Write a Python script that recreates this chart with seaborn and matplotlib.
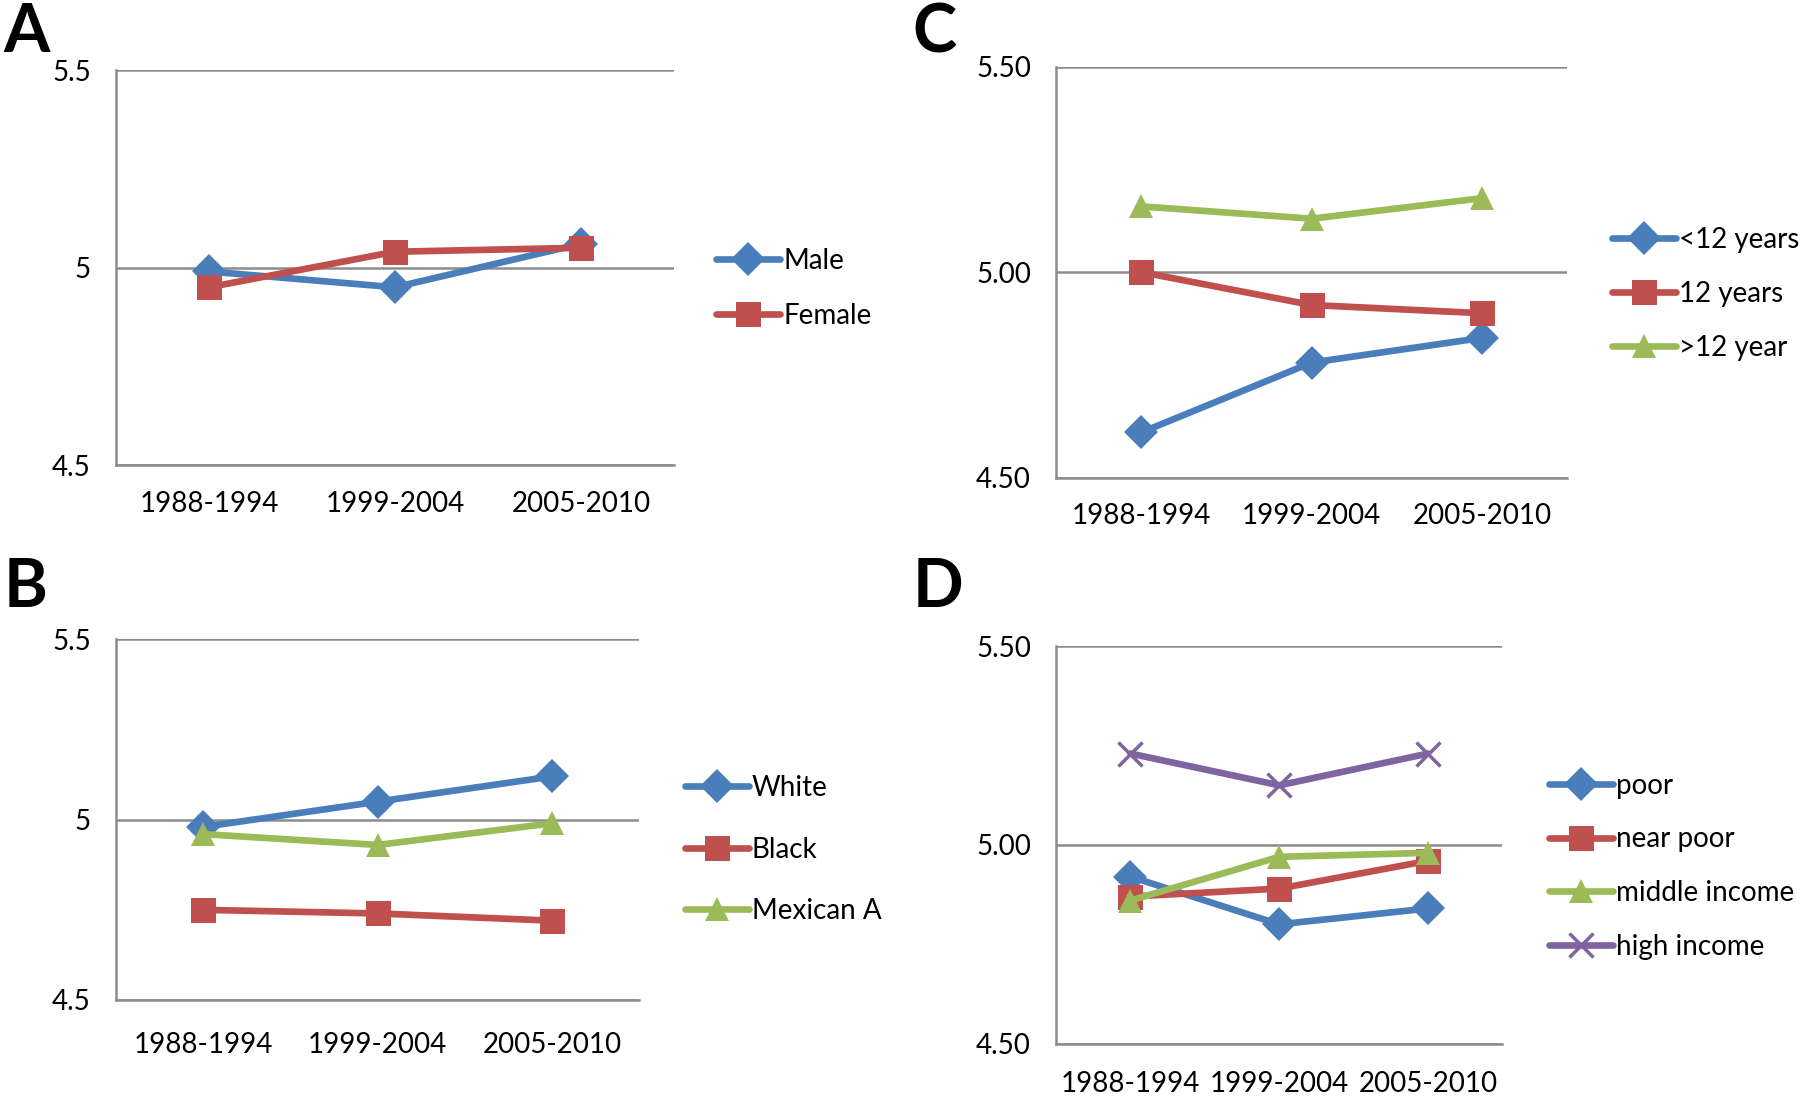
import numpy as np
import pandas as pd
import matplotlib
matplotlib.use("Agg")
import matplotlib.pyplot as plt
import seaborn as sns
from matplotlib.ticker import FixedLocator

periods = ["1988-1994", "1999-2004", "2005-2010"]

# panel A - sex
sex_groups = ["Male", "Female"]
male = [4.99, 4.95, 5.06]
female = [4.95, 5.04, 5.05]

# panel B - race
race_groups = ["White", "Black", "Mexican A"]
white = [4.98, 5.05, 5.12]
black = [4.75, 4.74, 4.72]
mexican = [4.96, 4.93, 4.99]

# panel C - education
edu_groups = ["<12 years", "12 years", ">12 year"]
edu_lt12 = [4.61, 4.78, 4.84]
edu_12 = [5.00, 4.92, 4.90]
edu_gt12 = [5.16, 5.13, 5.18]

# panel D - income
inc_groups = ["poor", "near poor", "middle income", "high income"]
poor = [4.92, 4.80, 4.84]
near_poor = [4.87, 4.89, 4.96]
middle_inc = [4.86, 4.97, 4.98]
high_inc = [5.23, 5.15, 5.23]

BLUE = "#4a7ebb"
RED = "#c0504d"
GREEN = "#9bbb59"
PURPLE = "#8064a2"
GRID = "#8c8c8c"
FS = 20

sns.set_style("white")
plt.rcParams["font.family"] = ["Lato", "DejaVu Sans"]
plt.rcParams["text.color"] = "black"
plt.rcParams["xtick.labelcolor"] = "black"
plt.rcParams["ytick.labelcolor"] = "black"


def long_df(groups, series):
    rows = []
    for g, vals in zip(groups, series):
        for i, v in enumerate(vals):
            rows.append({"group": g, "pos": i, "value": v})
    return pd.DataFrame(rows)


def draw_panel(rect, groups, series, colors, markers, yfmt,
               leg_xy, leg_spacing, xpad, letter, letter_xy):
    ax = fig.add_axes(rect)
    df = long_df(groups, series)
    msizes = {"D": 17, "s": 18, "^": 17, "x": 17}
    for g, c, m in zip(groups, colors, markers):
        sub = df[df["group"] == g]
        kw = dict(markeredgecolor=c, markeredgewidth=2.5) if m == "x" else dict(markeredgewidth=0)
        sns.lineplot(data=sub, x="pos", y="value", ax=ax, color=c, lw=4.8,
                     marker=m, markersize=msizes[m], label=g, **kw)
    ax.set_xlim(-0.5, 2.5)
    ax.set_ylim(4.5, 5.5)
    yt = [4.5, 5.0, 5.5]
    ax.set_yticks(yt)
    ax.set_yticklabels([yfmt.format(v) for v in yt])
    ax.set_xticks(range(3))
    ax.set_xticklabels(periods)
    ax.xaxis.set_minor_locator(FixedLocator([-0.5, 0.5, 1.5, 2.5]))
    ax.set_xlabel("")
    ax.set_ylabel("")
    ax.grid(axis="y", color=GRID, lw=1.8)
    ax.set_axisbelow(True)
    for s in ["top", "right"]:
        ax.spines[s].set_visible(False)
    for s in ["left", "bottom"]:
        ax.spines[s].set_color(GRID)
        ax.spines[s].set_linewidth(1.8)
    ax.tick_params(axis="x", which="major", length=0, labelsize=FS, pad=xpad)
    ax.tick_params(axis="x", which="minor", length=10, width=1.8, color=GRID, direction="out")
    ax.tick_params(axis="y", length=10, width=1.8, color=GRID, direction="out", labelsize=FS, pad=8)
    ax.legend_.remove()
    handles, labels = ax.get_legend_handles_labels()
    fig.legend(handles, labels, loc="center left", bbox_to_anchor=leg_xy,
               frameon=False, fontsize=FS, handlelength=2.3, handletextpad=0.1,
               labelspacing=leg_spacing, borderpad=0, borderaxespad=0)
    fig.text(letter_xy[0], letter_xy[1], letter, fontsize=48, fontweight="bold",
             va="top", ha="left", color="black")
    return ax


fig = plt.figure(figsize=(18, 10.96), dpi=100)

draw_panel([0.0644, 0.5757, 0.31, 0.3604], sex_groups, [male, female],
           [BLUE, RED], ["D", "s"], "{:g}",
           (0.398, 0.737), 1.05, 19, "A", (0.002, 0.998))
draw_panel([0.0644, 0.0876, 0.2908, 0.329], race_groups, [white, black, mexican],
           [BLUE, RED, GREEN], ["D", "s", "^"], "{:g}",
           (0.3805, 0.2249), 1.28, 23, "B", (0.002, 0.492))
draw_panel([0.5867, 0.5642, 0.284, 0.375], edu_groups, [edu_lt12, edu_12, edu_gt12],
           [BLUE, RED, GREEN], ["D", "s", "^"], "{:.2f}",
           (0.8955, 0.7318), 1.0, 18, "C", (0.507, 0.998))
draw_panel([0.5867, 0.0479, 0.248, 0.3624], inc_groups, [poor, near_poor, middle_inc, high_inc],
           [BLUE, RED, GREEN, PURPLE], ["D", "s", "^", "x"], "{:.2f}",
           (0.8605, 0.2097), 1.0, 20, "D", (0.507, 0.492))

fig.savefig("out.png", dpi=100, facecolor="white")
